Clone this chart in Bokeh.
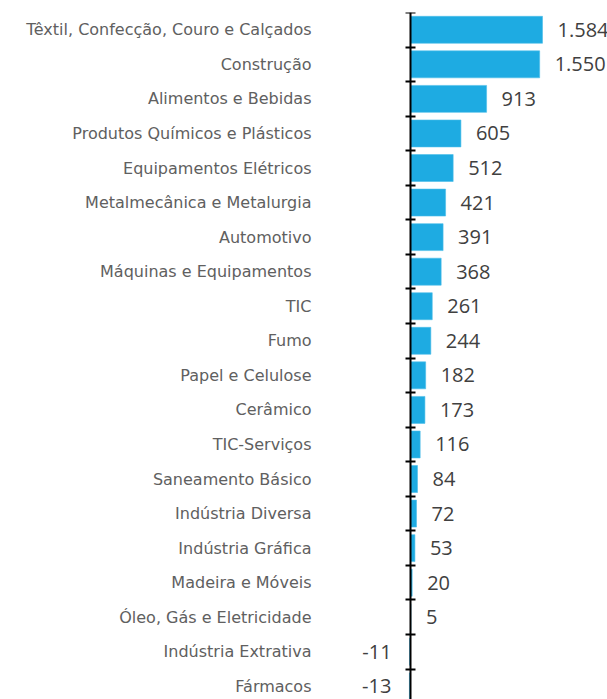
from bokeh.plotting import figure
from bokeh.models import ColumnDataSource, Range1d, LinearAxis, FixedTicker, LabelSet
from bokeh.core.properties import value
from bokeh.embed import file_html
from bokeh.resources import INLINE

categories = [
    "Têxtil, Confecção, Couro e Calçados",
    "Construção",
    "Alimentos e Bebidas",
    "Produtos Químicos e Plásticos",
    "Equipamentos Elétricos",
    "Metalmecânica e Metalurgia",
    "Automotivo",
    "Máquinas e Equipamentos",
    "TIC",
    "Fumo",
    "Papel e Celulose",
    "Cerâmico",
    "TIC-Serviços",
    "Saneamento Básico",
    "Indústria Diversa",
    "Indústria Gráfica",
    "Madeira e Móveis",
    "Óleo, Gás e Eletricidade",
    "Indústria Extrativa",
    "Fármacos",
]
values = [1584, 1550, 913, 605, 512, 421, 391, 368, 261, 244,
          182, 173, 116, 84, 72, 53, 20, 5, -11, -13]
value_labels = ["1.584", "1.550", "913", "605", "512", "421", "391", "368", "261", "244",
                "182", "173", "116", "84", "72", "53", "20", "5", "-11", "-13"]

pos = list(range(len(categories)))
src = ColumnDataSource(dict(y=pos, v=values, lab=value_labels))
pos_src = ColumnDataSource(dict(
    y=[i for i, v in zip(pos, values) if v >= 0],
    v=[v for v in values if v >= 0],
    lab=[l for l, v in zip(value_labels, values) if v >= 0],
))
neg_src = ColumnDataSource(dict(
    y=[i for i, v in zip(pos, values) if v < 0],
    v=[v for v in values if v < 0],
    lab=[l for l, v in zip(value_labels, values) if v < 0],
))

p = figure(width=607, height=699,
           x_range=Range1d(-960, 2364), y_range=Range1d(19.38, -0.5),
           output_backend="svg", toolbar_location=None,
           x_axis_location=None, y_axis_location=None,
           min_border_left=330, min_border_right=0,
           min_border_top=12, min_border_bottom=0)
p.grid.visible = False
p.outline_line_color = None
p.background_fill_color = "white"
p.border_fill_color = "white"

p.hbar(y="y", left=0, right="v", height=0.78, source=src,
       fill_color="#1EABE2", line_color="#4DBDE9", line_width=0.6)

# category labels axis (at frame edge, no line, no ticks)
lab_ax = LinearAxis(ticker=FixedTicker(ticks=pos),
                    major_label_overrides={i: c for i, c in enumerate(categories)})
lab_ax.axis_line_color = None
lab_ax.major_tick_line_color = None
lab_ax.minor_tick_line_color = None
lab_ax.major_tick_in = 0
lab_ax.major_tick_out = 0
lab_ax.minor_tick_in = 0
lab_ax.minor_tick_out = 0
lab_ax.major_label_standoff = 19
lab_ax.major_label_text_font = "DejaVu Sans"
lab_ax.major_label_text_font_size = "16px"
lab_ax.major_label_text_color = "#606060"
p.add_layout(lab_ax, "left")

# zero line with boundary ticks
zero_ax = LinearAxis(fixed_location=0,
                     ticker=FixedTicker(ticks=[], minor_ticks=[i - 0.5 for i in range(len(categories) + 1)]))
zero_ax.axis_line_color = "black"
zero_ax.axis_line_width = 2
zero_ax.major_tick_line_color = None
zero_ax.major_tick_in = 0
zero_ax.major_tick_out = 0
zero_ax.minor_tick_line_color = "black"
zero_ax.minor_tick_line_width = 2
zero_ax.minor_tick_in = 5
zero_ax.minor_tick_out = 5
zero_ax.major_label_standoff = 0
zero_ax.major_label_text_font_size = "0px"
p.add_layout(zero_ax, "left")

lab_pos = LabelSet(x="v", y="y", text="lab", source=pos_src, x_offset=15,
                   text_align="left", text_baseline="middle",
                   text_font=value("Open Sans"), text_font_size="20px", text_color="#404040")
lab_neg = LabelSet(x="v", y="y", text="lab", source=neg_src, x_offset=-18,
                   text_align="right", text_baseline="middle",
                   text_font=value("Open Sans"), text_font_size="20px", text_color="#404040")
p.add_layout(lab_pos)
p.add_layout(lab_neg)

open("out.html", "w").write(file_html(p, INLINE))
